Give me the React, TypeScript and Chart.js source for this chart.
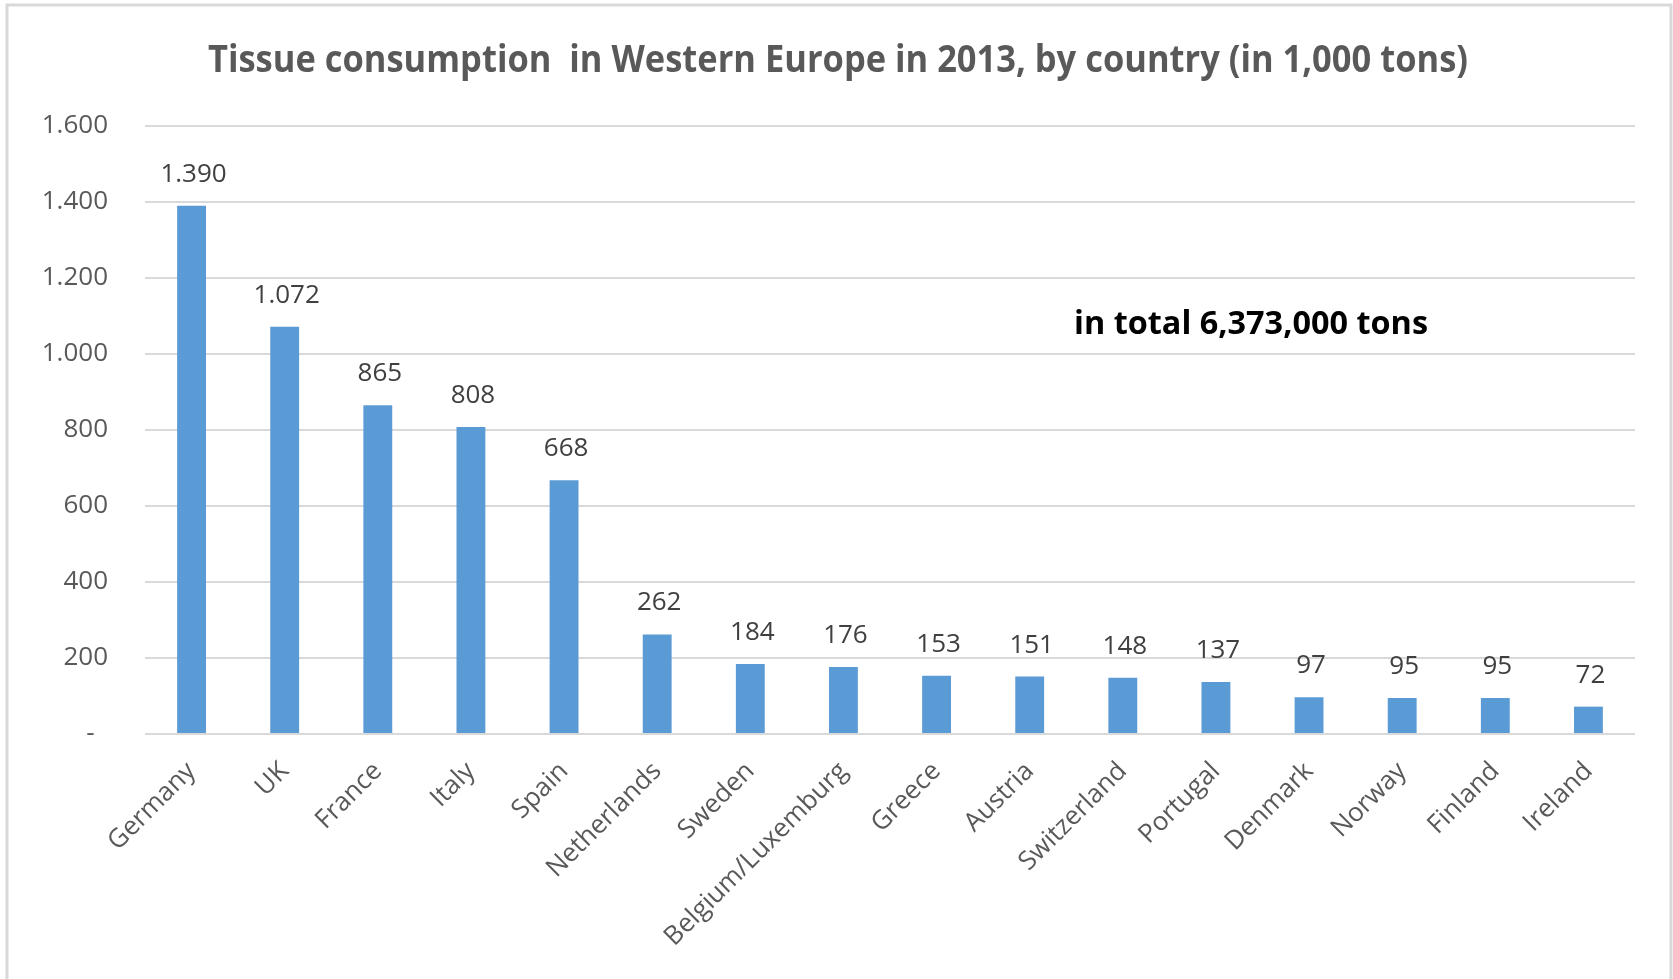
import React, { useEffect, useRef } from "react";
import { Chart, registerables } from "chart.js";

Chart.register(...registerables);

const titleText = "Tissue consumption  in Western Europe in 2013, by country (in 1,000 tons)";
const totalText = "in total 6,373,000 tons";
const categories = [
  "Germany", "UK", "France", "Italy", "Spain", "Netherlands", "Sweden",
  "Belgium/Luxemburg", "Greece", "Austria", "Switzerland", "Portugal",
  "Denmark", "Norway", "Finland", "Ireland",
];
const values = [1390, 1072, 865, 808, 668, 262, 184, 176, 153, 151, 148, 137, 97, 95, 95, 72];
const yMin = 0;
const yMax = 1600;
const yStep = 200;

const fmt = (v: number) => String(v).replace(/\B(?=(\d{3})+(?!\d))/g, ".");

const decorPlugin = {
  id: "decor",
  beforeDraw(chart: any) {
    const ctx = chart.ctx;
    ctx.save();
    ctx.fillStyle = "#ffffff";
    ctx.fillRect(0, 0, chart.width, chart.height);
    ctx.strokeStyle = "#d9d9d9";
    ctx.lineWidth = 3;
    ctx.beginPath();
    ctx.moveTo(7, 1200);
    ctx.lineTo(7, 5);
    ctx.lineTo(1671, 5);
    ctx.lineTo(1671, 1200);
    ctx.stroke();
    ctx.restore();
  },
  afterDraw(chart: any) {
    const ctx = chart.ctx;
    ctx.save();
    // title
    ctx.fillStyle = "#595959";
    ctx.font = "bold 37px 'Open Sans'";
    ctx.textAlign = "center";
    ctx.textBaseline = "alphabetic";
    ctx.fillText(titleText, 838, 72, 1260);
    // total annotation
    ctx.fillStyle = "#000000";
    ctx.font = "bold 33px 'Open Sans'";
    ctx.fillText(totalText, 1251, 334, 354);
    // data labels
    const meta = chart.getDatasetMeta(0);
    ctx.fillStyle = "#404040";
    ctx.font = "26px 'Open Sans'";
    meta.data.forEach((bar: any, i: number) => {
      ctx.fillText(fmt(values[i]), bar.x + 2, bar.y - 24);
    });
    ctx.restore();
  },
};

export default function App() {
  const ref = useRef<HTMLCanvasElement | null>(null);
  useEffect(() => {
    if (!ref.current) return;
    const chart = new Chart(ref.current, {
      type: "bar",
      data: {
        labels: categories,
        datasets: [
          {
            data: values,
            backgroundColor: "#5b9bd5",
            borderWidth: 0,
            barPercentage: 0.31,
            categoryPercentage: 1,
          },
        ],
      },
      options: {
        responsive: false,
        animation: false,
        devicePixelRatio: 1,
        layout: { padding: { top: 126, left: 0, right: 38, bottom: 0 } },
        plugins: {
          legend: { display: false },
          title: { display: false },
          tooltip: { enabled: false },
        },
        scales: {
          x: {
            grid: { display: false, drawTicks: false },
            border: { display: false },
            ticks: {
              maxRotation: 45,
              minRotation: 45,
              autoSkip: false,
              color: "#595959",
              font: { family: "'Open Sans'", size: 26 },
              padding: 22,
            },
            afterFit(scale: any) {
              scale.height = 245;
            },
          },
          y: {
            min: yMin,
            max: yMax,
            grid: { color: "#d9d9d9", lineWidth: 2, drawTicks: false },
            border: { display: false },
            ticks: {
              stepSize: yStep,
              color: "#595959",
              font: { family: "'Open Sans'", size: 26 },
              padding: 37,
              callback: (v: any) => (Number(v) === 0 ? "-  " : fmt(Number(v))),
            },
            afterFit(scale: any) {
              scale.width = 145;
            },
          },
        },
      },
      plugins: [decorPlugin],
    });
    return () => chart.destroy();
  }, []);
  return (
    <div style={{ position: "fixed", left: 0, top: 0, width: 1673, height: 979, background: "#fff" }}>
      <canvas ref={ref} width={1673} height={979} style={{ width: 1673, height: 979 }} />
    </div>
  );
}
